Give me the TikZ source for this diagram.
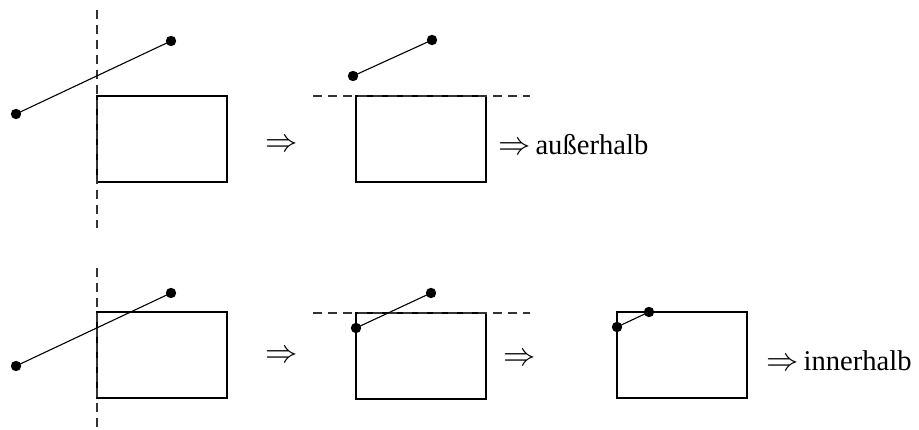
\documentclass[tikz,border=0pt]{standalone}
\usepackage{fontspec}
\usepackage{graphicx}
\setmainfont{Liberation Serif}
\newcommand{\imp}{\scalebox{1.3}{$\Rightarrow$}}
\begin{document}
\begin{tikzpicture}[x=1pt,y=-1pt,
  box/.style={draw,line width=1.1pt,minimum width=130pt,minimum height=86pt,inner sep=0pt},
  seg/.style={line width=1.1pt},
  dot/.style={fill=black},
  cut/.style={line width=1.1pt,dash pattern=on 9pt off 6pt,black!80},
  lbl/.style={inner sep=0pt,font=\fontsize{28.6}{34}\selectfont}]
\useasboundingbox (0,0) rectangle (919,430);
% top row
\node[box] (r1) at (162,139) {};
\draw[cut] (97,10) coordinate (v1a) -- (97,228) coordinate (v1b);
\coordinate (a1) at (16,114);
\coordinate (b1) at (171,41);
\draw[seg] (a1) -- (b1);
\fill[dot] (a1) circle (5.2pt) (b1) circle (5.2pt);
\node[lbl] (i1) at (282,146) {\imp};

\node[box] (r2) at (421,139) {};
\draw[cut] (313,96) coordinate (h1a) -- (530,96) coordinate (h1b);
\coordinate (a2) at (353,76);
\coordinate (b2) at (432,40);
\draw[seg] (a2) -- (b2);
\fill[dot] (a2) circle (5.2pt) (b2) circle (5.2pt);
\node[lbl,anchor=west] (t1) at (498,145) {\imp\hspace{5pt}außerhalb};

% bottom row
\node[box] (r3) at (162,355) {};
\draw[cut] (97,268) coordinate (v2a) -- (97,430) coordinate (v2b);
\coordinate (a3) at (16,366);
\coordinate (b3) at (171,293);
\draw[seg] (a3) -- (b3);
\fill[dot] (a3) circle (5.2pt) (b3) circle (5.2pt);
\node[lbl] (i2) at (282,357) {\imp};

\node[box] (r4) at (421,356) {};
\draw[cut] (313,313) coordinate (h2a) -- (530,313) coordinate (h2b);
\coordinate (a4) at (356,328);
\coordinate (b4) at (431,293);
\draw[seg] (a4) -- (b4);
\fill[dot] (a4) circle (5.2pt) (b4) circle (5.2pt);
\node[lbl] (i3) at (520,360) {\imp};

\node[box] (r5) at (682,355) {};
\coordinate (a5) at (617,327);
\coordinate (b5) at (649,312);
\draw[seg] (a5) -- (b5);
\fill[dot] (a5) circle (5.2pt) (b5) circle (5.2pt);
\node[lbl,anchor=west] (t2) at (766,361) {\imp\hspace{5pt}innerhalb};
\end{tikzpicture}
\end{document}
